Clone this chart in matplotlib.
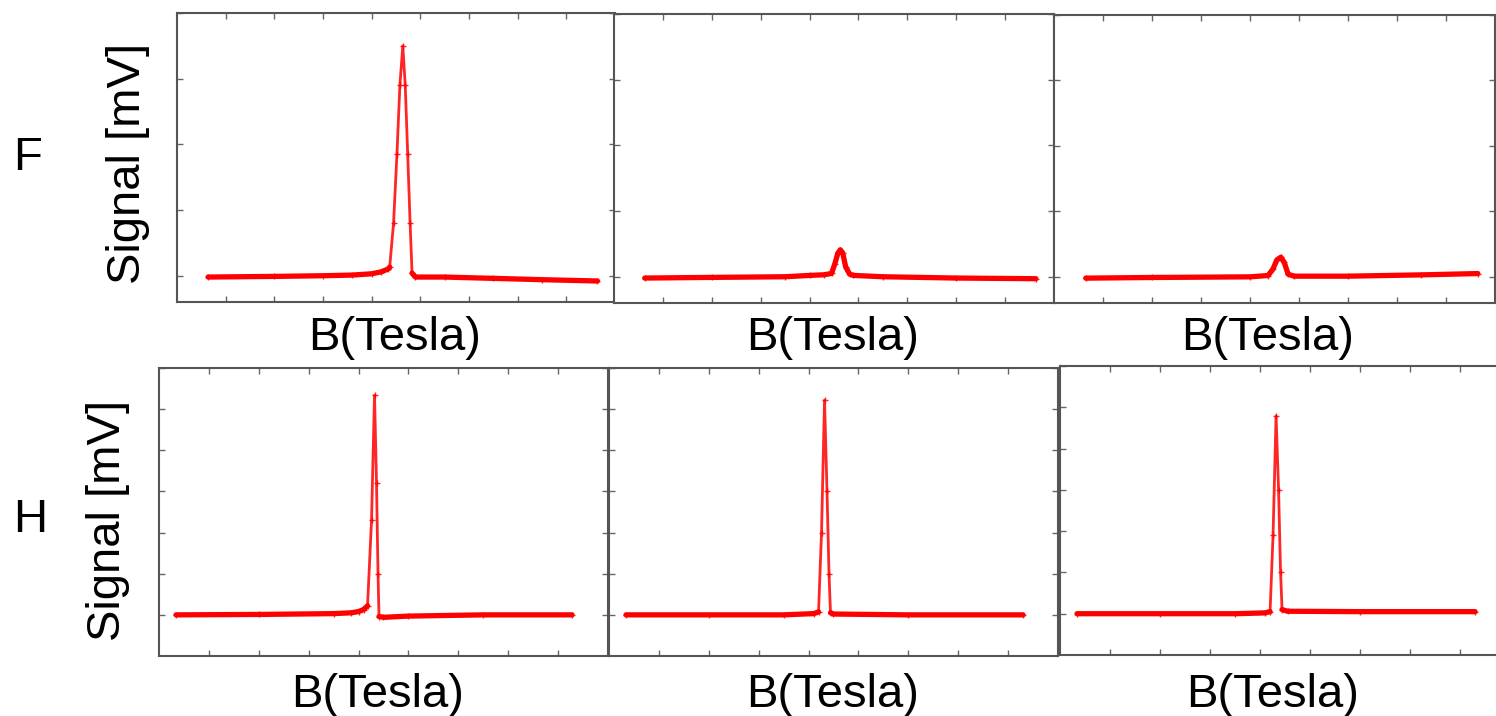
""" Signal vs B field, F and H rows
"""

import matplotlib.pyplot as plt
import numpy as np

# F row (ylim -0.4..4)
f1_x = [0.64, 2.0, 3.0, 3.6, 4.0, 4.2, 4.33, 4.37, 4.45, 4.52, 4.58, 4.64,
        4.69, 4.74, 4.79, 4.83, 4.9, 5.5, 6.5, 7.5, 8.64]
f1_y = [-0.02, -0.01, 0.0, 0.01, 0.03, 0.06, 0.10, 0.13, 0.8, 1.86, 2.9, 3.5,
        2.9, 1.86, 0.8, 0.04, -0.02, -0.02, -0.04, -0.06, -0.08]

f2_x = [0.63, 2.0, 3.5, 4.0, 4.3, 4.45, 4.52, 4.58, 4.63, 4.68, 4.74, 4.82,
        4.9, 5.5, 7.0, 8.63]
f2_y = [-0.02, -0.01, 0.0, 0.02, 0.03, 0.05, 0.2, 0.36, 0.41, 0.36, 0.15,
        0.04, 0.02, 0.0, -0.02, -0.03]

f3_x = [0.65, 2.0, 4.0, 4.37, 4.47, 4.55, 4.63, 4.7, 4.78, 4.9, 6.0, 7.5, 8.65]
f3_y = [-0.02, -0.01, 0.0, 0.02, 0.12, 0.26, 0.30, 0.22, 0.04, 0.01, 0.01,
        0.03, 0.05]

# H row (ylim -1..6)
h1_x = [0.34, 2.0, 3.5, 3.85, 4.0, 4.1, 4.18, 4.26, 4.32, 4.36, 4.39, 4.41,
        4.5, 5.0, 6.5, 8.28]
h1_y = [0.0, 0.01, 0.03, 0.05, 0.08, 0.13, 0.22, 2.3, 5.34, 3.2, 1.0, -0.04,
        -0.06, -0.03, 0.0, 0.0]

h2_x = [0.34, 2.0, 3.5, 4.1, 4.2, 4.26, 4.32, 4.37, 4.41, 4.44, 4.5, 6.0, 8.3]
h2_y = [0.0, 0.0, 0.0, 0.03, 0.07, 2.0, 5.22, 3.0, 1.0, 0.05, 0.02, 0.0, 0.0]

h3_x = [0.34, 2.0, 3.5, 4.1, 4.2, 4.26, 4.32, 4.37, 4.41, 4.44, 4.55, 6.0, 8.3]
h3_y = [0.0, 0.0, 0.0, 0.02, 0.05, 1.91, 4.79, 3.0, 1.0, 0.1, 0.06, 0.05, 0.05]

row_labels = ['F', 'H']
x_label = 'B(Tesla)'
y_label = 'Signal [mV]'


def style_axis(ax, ylim, yticks):
    ax.set_xlim(0, 9)
    ax.set_ylim(*ylim)
    ax.set_xticks(range(1, 9))
    ax.set_yticks(yticks)
    ax.tick_params(direction='in', length=4, width=1, colors='#666666',
                   top=True, right=True, labelbottom=False, labelleft=False)
    for s in ax.spines.values():
        s.set_color('#555555')
        s.set_linewidth(1.5)


def main():
    plt.rcParams['font.family'] = ['Liberation Sans', 'DejaVu Sans']
    fig = plt.figure(figsize=(14.96, 7.16), dpi=100)

    boxes = [
        [0.1183, 0.5782, 0.2928, 0.4036],
        [0.4104, 0.5768, 0.2941, 0.4036],
        [0.7045, 0.5768, 0.2948, 0.4022],
        [0.1063, 0.0838, 0.3001, 0.4022],
        [0.4071, 0.0838, 0.3001, 0.4022],
        [0.7086, 0.0852, 0.3008, 0.4036],
    ]
    series = [(f1_x, f1_y), (f2_x, f2_y), (f3_x, f3_y),
              (h1_x, h1_y), (h2_x, h2_y), (h3_x, h3_y)]

    for i, (box, (xs, ys)) in enumerate(zip(boxes, series)):
        ax = fig.add_axes(box)
        ys = np.array(ys)
        # thin trace with markers through the peak, thicker along the baseline
        ax.plot(xs, ys, color='red', lw=2, alpha=0.85,
                marker='+', markersize=5, markeredgewidth=1)
        thr = 0.15 if i < 3 else 0.25
        if i in (1, 2):
            thr = 1.0  # small peaks drawn as thick band too
        base = np.where(ys < thr, ys, np.nan)
        ax.plot(xs, base, color='red', lw=3.8, solid_capstyle='round')
        if i < 3:
            style_axis(ax, (-0.4, 4), range(0, 5))
        else:
            style_axis(ax, (-1, 6), range(0, 7))

    # axis titles as figure text
    fs = 34
    for xc in [395 / 1496, 833 / 1496, 1268 / 1496]:
        fig.text(xc, 1 - 338 / 716, x_label, fontsize=fs, ha='center', va='center')
    for xc in [378 / 1496, 833 / 1496, 1273 / 1496]:
        fig.text(xc, 1 - 695 / 716, x_label, fontsize=fs, ha='center', va='center')

    fig.text(128 / 1496, 1 - 163 / 716, y_label, fontsize=fs, rotation=90,
             ha='center', va='center')
    fig.text(108 / 1496, 1 - 520 / 716, y_label, fontsize=fs, rotation=90,
             ha='center', va='center')
    fig.text(28 / 1496, 1 - 158 / 716, row_labels[0], fontsize=fs,
             ha='center', va='center')
    fig.text(30 / 1496, 1 - 520 / 716, row_labels[1], fontsize=fs,
             ha='center', va='center')

    fig.savefig('out.png', dpi=100)


if __name__ == '__main__':
    main()
